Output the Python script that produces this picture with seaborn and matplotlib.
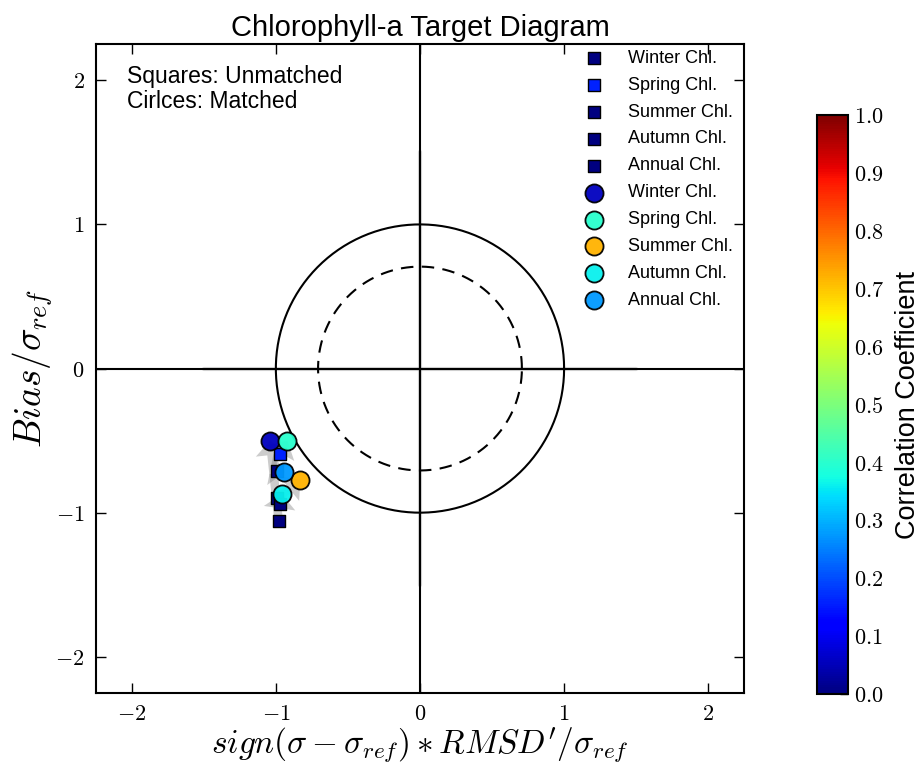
import numpy as np
import pandas as pd
import matplotlib
matplotlib.use("Agg")
import matplotlib.pyplot as plt
import seaborn as sns
from matplotlib.ticker import FixedLocator, FixedFormatter

# ---------------- data ----------------
seasons = ["Winter Chl.", "Spring Chl.", "Summer Chl.", "Autumn Chl.", "Annual Chl."]
# unmatched (squares)
unm_x = [-0.98, -0.97, -0.99, -0.97, -0.99]
unm_y = [-1.06, -0.59, -0.90, -0.94, -0.71]
unm_r = [0.0, 0.16, 0.0, 0.0, 0.0]
# matched (circles)
mat_x = [-1.04, -0.92, -0.83, -0.96, -0.94]
mat_y = [-0.50, -0.50, -0.77, -0.87, -0.72]
mat_r = [0.055, 0.40, 0.72, 0.36, 0.275]

ticks = [-2, -1, 0, 1, 2]
tick_labels = ["$-2$", "$-1$", "$0$", "$1$", "$2$"]
cb_ticks = [0.0, 0.1, 0.2, 0.3, 0.4, 0.5, 0.6, 0.7, 0.8, 0.9, 1.0]
cb_labels = ["$%.1f$" % t for t in cb_ticks]

sq = pd.DataFrame({"season": seasons, "x": unm_x, "y": unm_y, "r": unm_r})
ci = pd.DataFrame({"season": seasons, "x": mat_x, "y": mat_y, "r": mat_r})

# ---------------- style ----------------
sns.set_style("white")
plt.rcParams["font.family"] = ["Liberation Sans", "DejaVu Sans"]
plt.rcParams["mathtext.fontset"] = "cm"
plt.rcParams["xtick.direction"] = "in"
plt.rcParams["ytick.direction"] = "in"
for k in ["text.color", "axes.labelcolor", "xtick.color", "ytick.color", "axes.edgecolor"]:
    plt.rcParams[k] = "black"

cmap = plt.get_cmap("jet")

fig = plt.figure(figsize=(9.2, 7.67), dpi=100)
ax = fig.add_axes([0.104, 0.0965, 0.705, 0.846])
cax = fig.add_axes([0.888, 0.095, 0.0337, 0.755])

lim = 2.25
ax.set_xlim(-lim, lim)
ax.set_ylim(-lim, lim)
ax.set_aspect("equal", adjustable="box")

# reference axes lines
ax.axhline(0, color="black", lw=1.5, zorder=1)
ax.axvline(0, color="black", lw=1.5, zorder=1)
ax.plot([-1.5, 1.5], [0, 0], color="gray", lw=3, alpha=0.3, zorder=0.9)
ax.plot([0, 0], [-1.5, 1.5], color="gray", lw=3, alpha=0.3, zorder=0.9)

# reference circles
th = np.linspace(0, 2 * np.pi, 400)
ax.plot(np.cos(th), np.sin(th), color="black", lw=1.5, zorder=1.2)
rd = np.sqrt(0.5)
ax.plot(rd * np.cos(th), rd * np.sin(th), color="black", lw=1.5, ls=(0, (6, 4)), zorder=1.2)

# arrows unmatched -> matched
for i in range(len(seasons)):
    ax.arrow(unm_x[i], unm_y[i], mat_x[i] - unm_x[i], mat_y[i] - unm_y[i],
             width=0.06, head_width=0.22, head_length=0.1,
             length_includes_head=True, fc="gray", ec="none", alpha=0.4, zorder=2)

# squares
for i, row in sq.iterrows():
    sns.scatterplot(x=[row.x], y=[row.y], ax=ax, marker="s", s=80,
                    color=cmap(row.r), edgecolor="black", linewidth=1,
                    label=row.season, zorder=3)
# circles
for i, row in ci.iterrows():
    sns.scatterplot(x=[row.x], y=[row.y], ax=ax, marker="o", s=170,
                    color=cmap(row.r), edgecolor="black", linewidth=1.3,
                    alpha=0.95, label=row.season, zorder=4)

ax.legend(loc="upper right", bbox_to_anchor=(0.991, 1.0), frameon=False, fontsize=13,
          labelspacing=0.55, handletextpad=0.9, borderaxespad=0.0, borderpad=0.3,
          scatterpoints=1)

ax.xaxis.set_major_locator(FixedLocator(ticks))
ax.xaxis.set_major_formatter(FixedFormatter(tick_labels))
ax.yaxis.set_major_locator(FixedLocator(ticks))
ax.yaxis.set_major_formatter(FixedFormatter(tick_labels))
ax.tick_params(axis="both", which="major", direction="in", length=7, width=1,
               top=True, right=True, bottom=True, left=True,
               labelsize=16, pad=8, color="black")
for s in ax.spines.values():
    s.set_linewidth(1.5)
    s.set_color("black")

ax.set_title("Chlorophyll-a Target Diagram", fontsize=21, pad=6)
ax.set_xlabel(r"$sign(\sigma-\sigma_{ref})*RMSD'/\sigma_{ref}$", fontsize=24, labelpad=0)
ax.set_ylabel(r"$Bias/\sigma_{ref}$", fontsize=27, labelpad=0)

ax.text(0.048, 0.968, "Squares: Unmatched\nCirlces: Matched", transform=ax.transAxes,
        ha="left", va="top", fontsize=16.5, linespacing=1.1)

# colorbar
sm = matplotlib.cm.ScalarMappable(norm=matplotlib.colors.Normalize(0, 1), cmap=cmap)
cb = fig.colorbar(sm, cax=cax)
cb.set_ticks(cb_ticks)
cb.set_ticklabels(cb_labels)
cax.tick_params(direction="in", length=6, width=1, labelsize=16, pad=4, color="black")
cb.outline.set_linewidth(1.5)
cb.set_label("Correlation Coefficient", fontsize=19.5, labelpad=8)

fig.savefig("out.png", dpi=100)
